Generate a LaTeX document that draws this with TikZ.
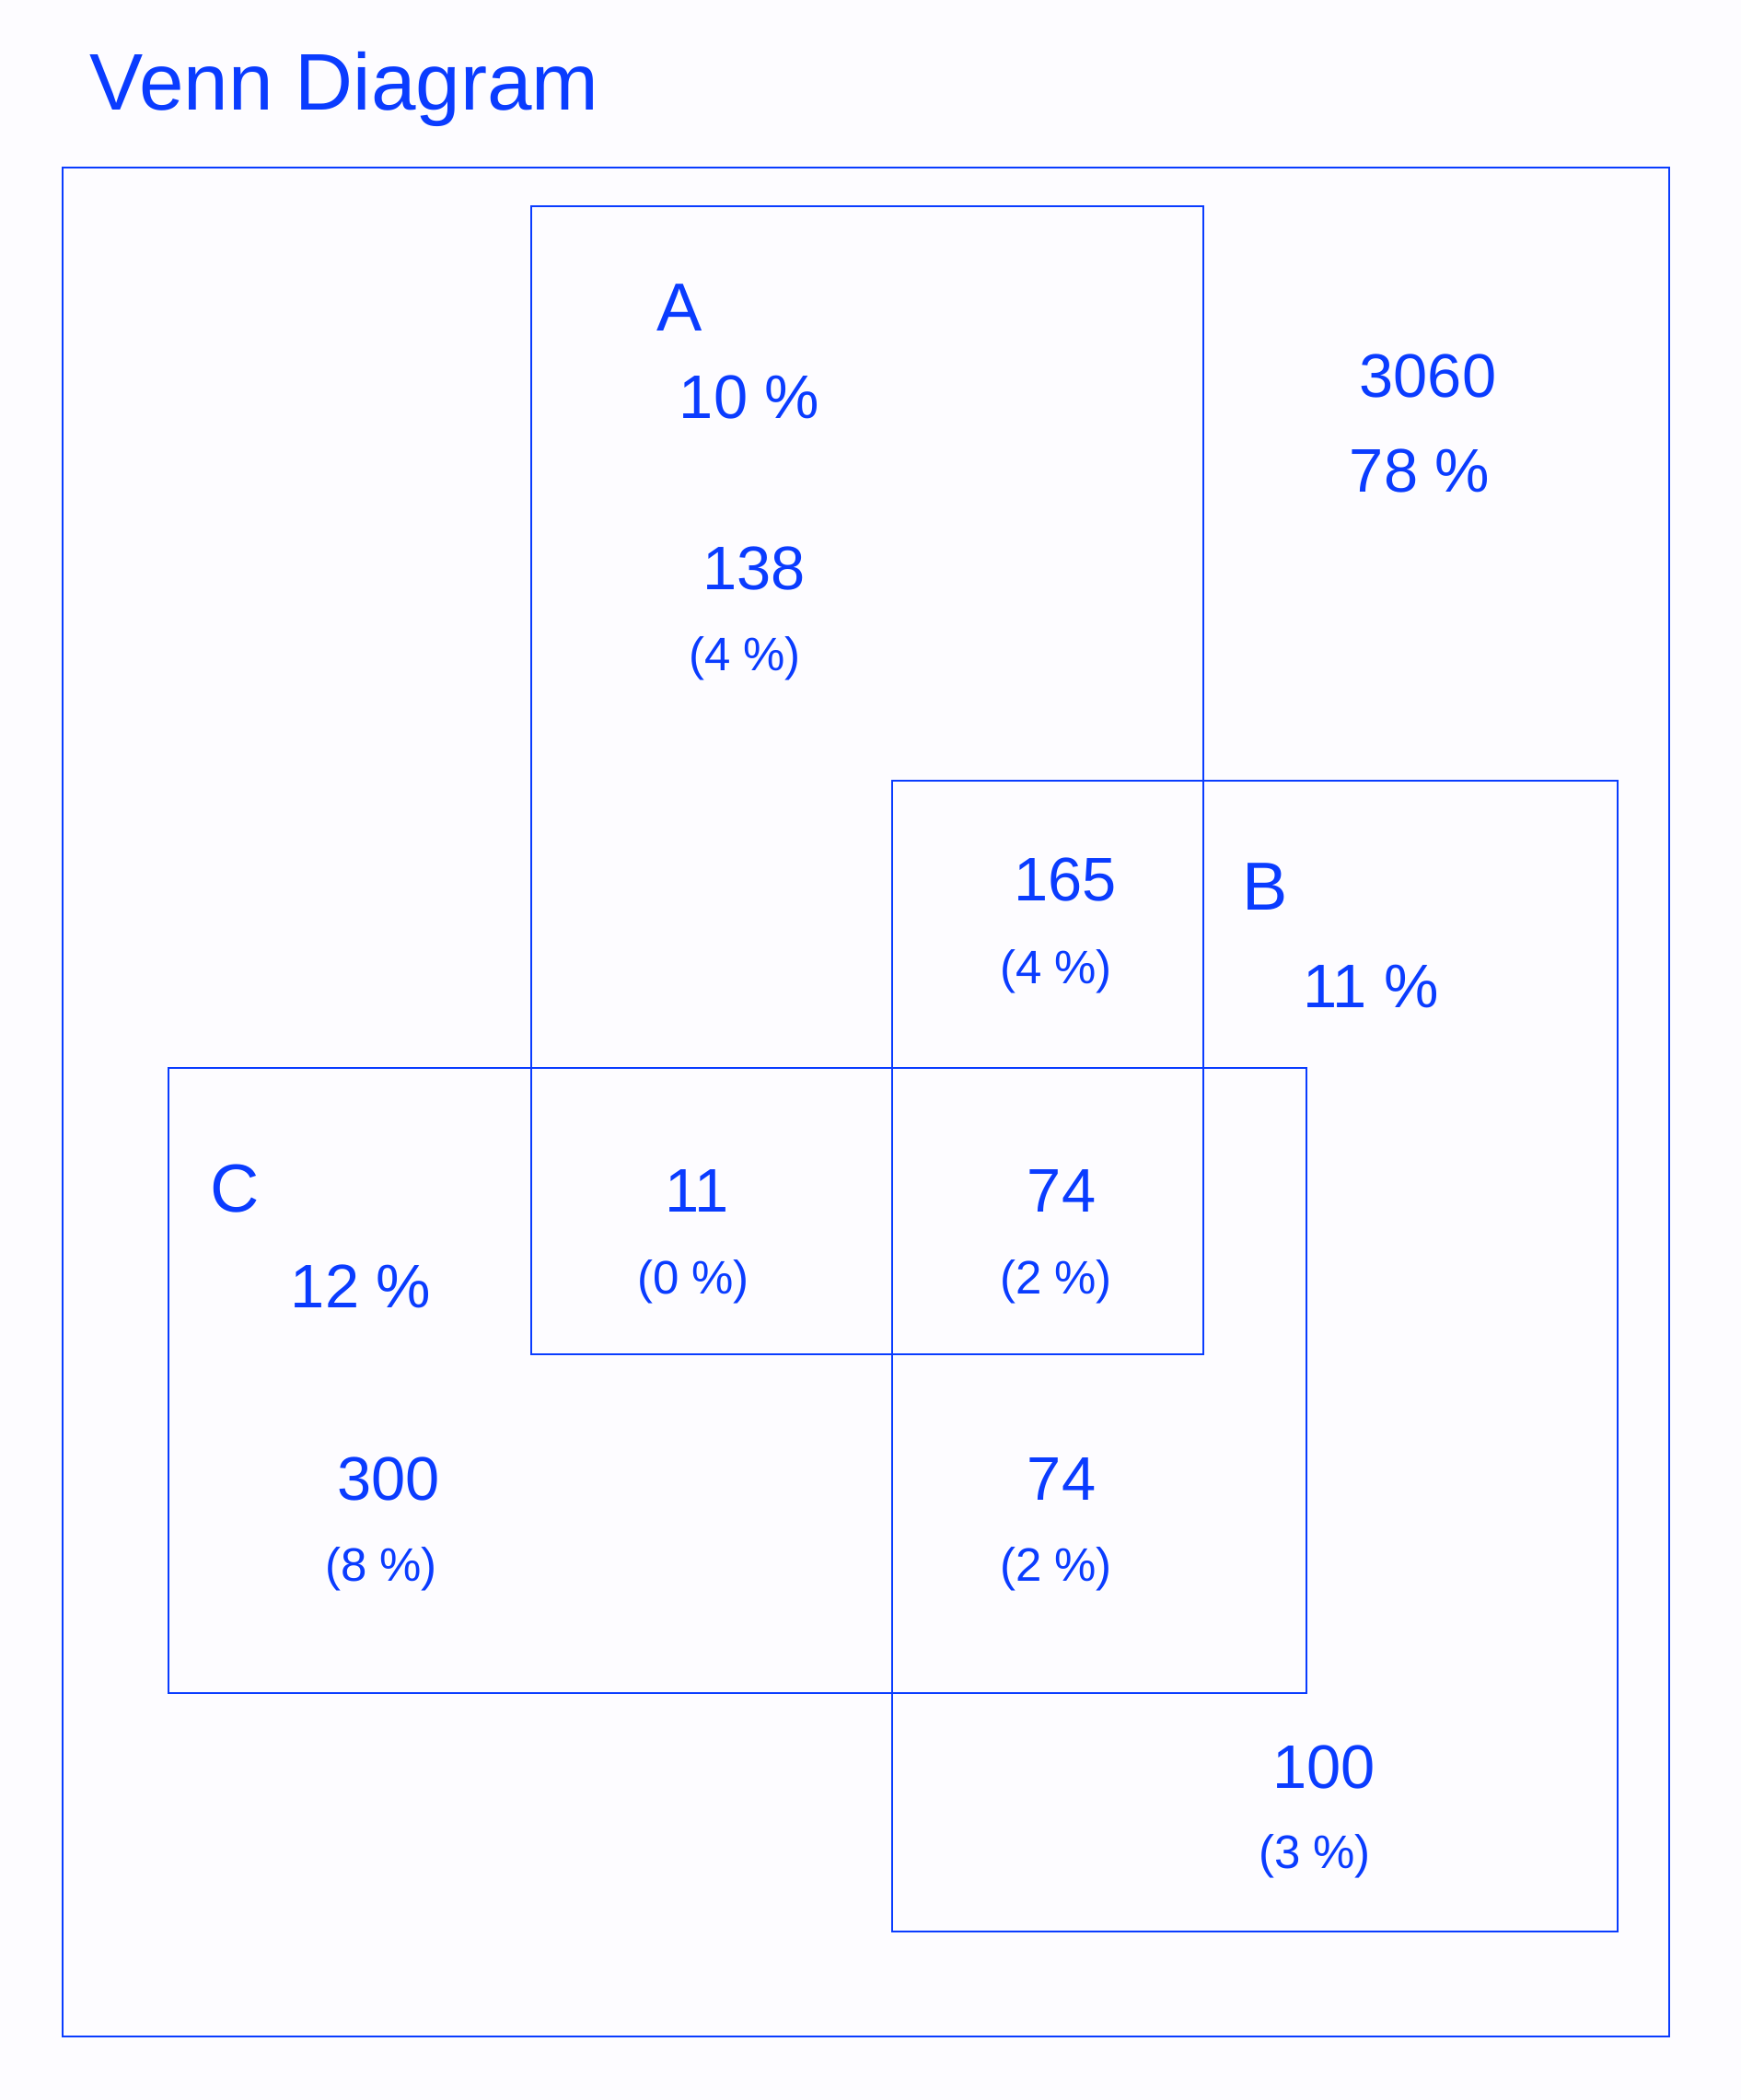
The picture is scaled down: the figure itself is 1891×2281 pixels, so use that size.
\documentclass[tikz,border=0pt]{standalone}
\usepackage{fontspec}
\setmainfont{Liberation Sans}
\usepackage{tikz}
\definecolor{vblue}{HTML}{0A3CFF}
\definecolor{vpaper}{HTML}{FDFCFF}
\tikzset{
  frame/.style={draw=vblue,line width=0.75pt},
  ttl/.style={text=vblue,font=\fontsize{24.8}{25}\selectfont,inner sep=0pt,anchor=base west},
  setname/.style={text=vblue,font=\fontsize{21}{21}\selectfont,inner sep=0pt,anchor=base},
  count/.style={text=vblue,font=\fontsize{19}{19}\selectfont,inner sep=0pt,anchor=base},
  pct/.style={text=vblue,font=\fontsize{14.5}{15}\selectfont,inner sep=0pt,anchor=base},
}

\begin{document}
\begin{tikzpicture}[x=0.01cm,y=-0.01cm]
\fill[vpaper] (0,0) rectangle (1891,2281);
\node[ttl] (title) at (97,119) {Venn Diagram};
% universe and the three sets
\draw[frame] (68,182) rectangle (1813,2212);
\draw[frame] (577,224) rectangle (1307,1471);
\draw[frame] (969,848) rectangle (1757,2098);
\draw[frame] (183,1160) rectangle (1419,1839);
% outside all sets
\node[count] (nU) at (1551,431) {3060};
\node[count] (pU) at (1542,534) {78 \%};
% set A
\node[setname] (lA) at (738,359) {A};
\node[count] (tA) at (814,454) {10 \%};
\node[count] (nA) at (819,640) {138};
\node[pct] (pA) at (809,728) {(4 \%)};
% A and B
\node[count] (nAB) at (1157,978) {165};
\node[pct] (pAB) at (1147,1068) {(4 \%)};
% set B
\node[setname] (lB) at (1374,988) {B};
\node[count] (tB) at (1489,1094) {11 \%};
% set C
\node[setname] (lC) at (255,1316) {C};
\node[count] (tC) at (392,1420) {12 \%};
% A and C
\node[count] (nAC) at (757,1316) {11};
\node[pct] (pAC) at (753,1405) {(0 \%)};
% A, B and C
\node[count] (nABC) at (1153,1316) {74};
\node[pct] (pABC) at (1147,1405) {(2 \%)};
% C only
\node[count] (nC) at (422,1629) {300};
\node[pct] (pC) at (414,1717) {(8 \%)};
% B and C
\node[count] (nBC) at (1153,1629) {74};
\node[pct] (pBC) at (1147,1717) {(2 \%)};
% B only
\node[count] (nB) at (1438,1942) {100};
\node[pct] (pB) at (1428,2029) {(3 \%)};
\end{tikzpicture}
\end{document}
